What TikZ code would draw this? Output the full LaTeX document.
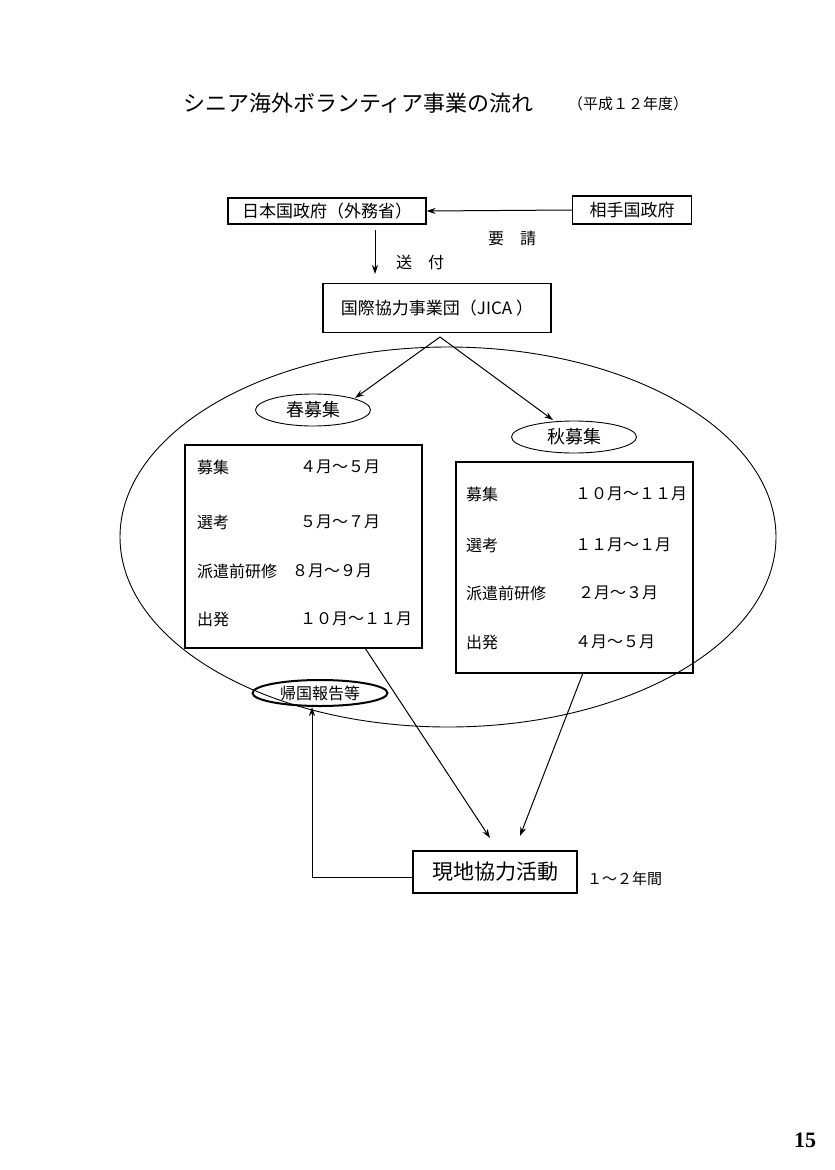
\documentclass[tikz,border=0pt]{standalone}
\usepackage{fontspec}
\setmainfont{Noto Sans CJK JP}
\newfontfamily\serifnum{Liberation Serif}
\usetikzlibrary{arrows.meta,shapes.geometric}
\begin{document}
\begin{tikzpicture}[x=1pt,y=-1pt,
  bx/.style={draw,line width=1.1pt,inner sep=0pt},
  ar/.style={-{Stealth[length=9pt,width=6pt]},line width=1pt},
  tx/.style={font=\fontsize{16}{18}\selectfont,anchor=west,inner sep=0pt},
  el/.style={draw,ellipse,line width=0.9pt,font=\fontsize{18}{20}\selectfont,inner sep=0pt}]
\useasboundingbox (0,0) rectangle (835,1170);
\node[font=\fontsize{22}{24}\selectfont,anchor=west,inner sep=0pt] (title) at (183,103) {シニア海外ボランティア事業の流れ};
\node[font=\fontsize{15}{17}\selectfont,anchor=west,inner sep=0pt] (yr) at (568,104) {（平成１２年度）};
\node[bx,minimum width=198,minimum height=26,font=\fontsize{17}{19}\selectfont] (gov) at (327,211) {日本国政府（外務省）};
\node[bx,minimum width=119,minimum height=28,font=\fontsize{17}{19}\selectfont] (aite) at (632,210) {相手国政府};
\draw[ar] (aite.west) -- (gov.east);
\node[font=\fontsize{16}{18}\selectfont] (yosei) at (512,238) {要\quad 請};
\coordinate (s1) at (375,230);
\coordinate (s2) at (375,274);
\draw[ar] (s1) -- (s2);
\node[font=\fontsize{16}{18}\selectfont] (sofu) at (420,262) {送\quad 付};
\node[bx,minimum width=228,minimum height=49,font=\fontsize{17}{19}\selectfont] (jica) at (437,308) {国際協力事業団（JICA ）};
\node[draw,ellipse,minimum width=656,minimum height=380,line width=0.9pt] (big) at (448,537) {};
\node[el,minimum width=115,minimum height=32] (haru) at (313,410) {春募集};
\node[el,minimum width=125,minimum height=32] (aki) at (574,437) {秋募集};
\coordinate (j1) at (440,337);
\draw[ar] (j1) -- (355,398);
\draw[ar] (j1) -- (553,420);
\node[bx,line width=1.6pt,minimum width=237,minimum height=203] (lb) at (303.5,546.5) {};
\node[tx] (l1) at (197,467) {募集}; \node[tx] (l1v) at (300,467) {４月～５月};
\node[tx] (l2) at (197,522) {選考}; \node[tx] (l2v) at (300,522) {５月～７月};
\node[tx] (l3) at (197,571) {派遣前研修}; \node[tx] (l3v) at (292,571) {８月～９月};
\node[tx] (l4) at (197,619) {出発}; \node[tx] (l4v) at (300,619) {１０月～１１月};
\node[bx,line width=1.6pt,minimum width=237,minimum height=211] (rb) at (574.5,567.5) {};
\node[tx] (r1) at (466,494) {募集}; \node[tx] (r1v) at (575,494) {１０月～１１月};
\node[tx] (r2) at (466,545) {選考}; \node[tx] (r2v) at (575,545) {１１月～１月};
\node[tx] (r3) at (466,593) {派遣前研修}; \node[tx] (r3v) at (578,593) {２月～３月};
\node[tx] (r4) at (466,642) {出発}; \node[tx] (r4v) at (575,642) {４月～５月};
\node[el,line width=2pt,minimum width=135,minimum height=26,inner sep=0pt,font=\fontsize{16}{18}\selectfont] (kikoku) at (320,693) {帰国報告等};
\node[bx,minimum width=164,minimum height=42,font=\fontsize{21}{23}\selectfont] (genchi) at (495,872) {現地協力活動};
\node[font=\fontsize{15}{17}\selectfont,anchor=west,inner sep=0pt] (nen) at (587,879) {１～２年間};
\coordinate (a1) at (365,648);
\coordinate (a2) at (583,673);
\draw[ar] (a1) -- (490,838);
\draw[ar] (a2) -- (520,836);
\coordinate (k1) at (312,877);
\draw[ar] (genchi.west |- k1) -- (k1) -- (kikoku.south -| k1);
\node[font=\serifnum\bfseries\fontsize{22}{24}\selectfont] (pg) at (805,1140) {15};
\end{tikzpicture}
\end{document}
